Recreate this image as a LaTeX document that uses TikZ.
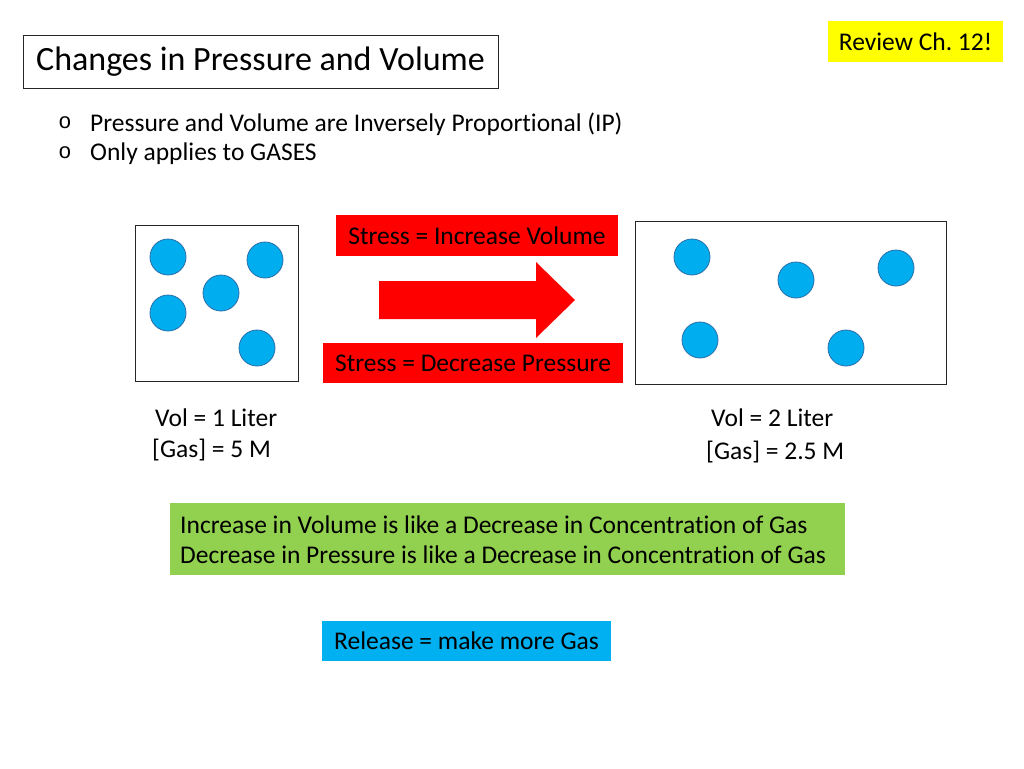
\documentclass[tikz,border=0pt]{standalone}
\usepackage{fontspec}
\setmainfont[Ligatures=NoCommon]{Carlito}
\newfontfamily\monofnt{Liberation Mono}
\frenchspacing
\definecolor{redc}{RGB}{255,0,0}
\definecolor{yelc}{RGB}{255,255,0}
\definecolor{grnc}{RGB}{146,208,80}
\definecolor{bluc}{RGB}{0,176,240}
\definecolor{ballfill}{RGB}{0,174,239}
\definecolor{balledge}{RGB}{40,110,170}
\begin{document}
\begin{tikzpicture}[x=1pt,y=-1pt,
  ball/.style={circle,minimum size=36pt,inner sep=0pt,fill=ballfill,draw=balledge,line width=0.8pt},
  frame/.style={draw=black!85,line width=1pt,fill=white,inner sep=0pt},
  lab/.style={anchor=west,inner sep=0pt,font=\fontsize{25.5}{30}\selectfont},
  fillbox/.style={inner sep=0pt,font=\fontsize{25.5}{30}\selectfont}]
\useasboundingbox (0,0) rectangle (1024,768);
\fill[white] (0,0) rectangle (1024,768);
% title
\node[frame,minimum width=475pt,minimum height=52pt,font=\fontsize{34}{40}\selectfont] (title) at (260.5,62) {Changes in Pressure and Volume};
% review
\node[fillbox,fill=yelc,minimum width=175pt,minimum height=41pt,font=\fontsize{25.5}{30}\selectfont] (review) at (915.5,41.5) {Review Ch. 12!};
% bullets
\node[anchor=center,inner sep=0pt,font=\monofnt\fontsize{22}{26}\selectfont] (b1) at (65,123) {o};
\node[anchor=center,inner sep=0pt,font=\monofnt\fontsize{22}{26}\selectfont] (b2) at (65,153) {o};
\node[lab] (t1) at (90,124) {Pressure and Volume are Inversely Proportional (IP)};
\node[lab] (t2) at (90,154) {Only applies to GASES};
% containers
\node[frame,minimum width=163pt,minimum height=156pt] (lbox) at (216.5,303) {};
\node[frame,minimum width=311pt,minimum height=163pt] (rbox) at (790.5,302.5) {};
\node[ball] (l1) at (168,257) {};
\node[ball] (l2) at (265,260) {};
\node[ball] (l3) at (221,293) {};
\node[ball] (l4) at (168,313) {};
\node[ball] (l5) at (257,348) {};
\node[ball] (r1) at (692,257) {};
\node[ball] (r2) at (796,280) {};
\node[ball] (r3) at (896,268) {};
\node[ball] (r4) at (700,340) {};
\node[ball] (r5) at (846,348) {};
% stress labels
\node[fillbox,fill=redc,minimum width=282pt,minimum height=41pt] (s1) at (477,235.5) {Stress = Increase Volume};
\node[fillbox,fill=redc,minimum width=300pt,minimum height=40pt] (s2) at (473,363) {Stress = Decrease Pressure};
% arrow
\fill[redc] (379,281) -- (536,281) -- (536,262) -- (575,300) -- (536,338) -- (536,319) -- (379,319) -- cycle;
% volume labels
\node[lab] (v1) at (155,418) {Vol = 1 Liter};
\node[lab] (g1) at (152,450) {[Gas] = 5 M};
\node[lab] (v2) at (711,418) {Vol = 2 Liter};
\node[lab] (g2) at (706,452) {[Gas] = 2.5 M};
% green box
\node[fillbox,fill=grnc,minimum width=675pt,minimum height=72pt] (green) at (507.5,539) {};
\node[lab] (gl1) at (180,525) {Increase in Volume is like a Decrease in Concentration of Gas};
\node[lab] (gl2) at (180,555) {Decrease in Pressure is like a Decrease in Concentration of Gas};
% blue box
\node[fillbox,fill=bluc,minimum width=289pt,minimum height=40pt] (rel) at (466.5,641) {Release = make more Gas};
\end{tikzpicture}
\end{document}
